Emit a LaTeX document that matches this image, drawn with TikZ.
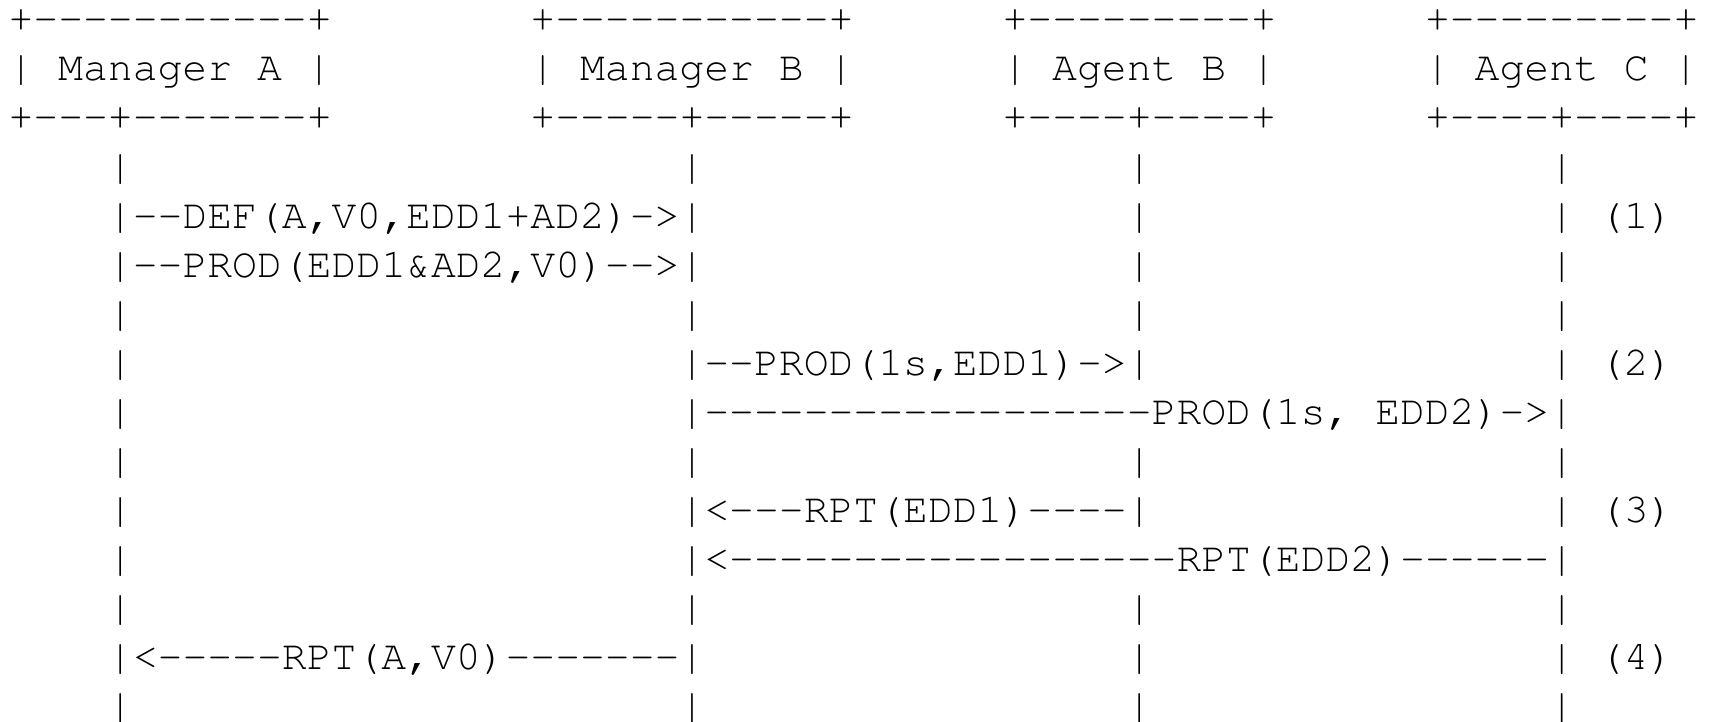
\documentclass[tikz,border=0pt]{standalone}
\usepackage[T1]{fontenc}
\newcommand\mono{\fontencoding{T1}\fontfamily{pcr}\fontseries{m}\fontshape{n}\fontsize{20.708pt}{24.5pt}\selectfont}
\newcommand\dashes[1]{\foreach\i in {1,...,#1}{-}}
\tikzset{asc/.style={anchor=base west, inner sep=0pt, outer sep=0pt, font=\mono, text=black}}
\newcommand\asc[4]{\node[asc] (#1) at ({8.575+24.85*(#2)},{32+49*(#3)}) {#4};}
\begin{document}
\begin{tikzpicture}[x=0.5pt,y=-0.5pt]
\fill[white] (0,0) rectangle (1714,722);
\useasboundingbox (0,0) rectangle (1714,722);
% participant boxes
\asc{mAt}{0}{0}{+\dashes{11}+}
\asc{mBt}{21}{0}{+\dashes{11}+}
\asc{aBt}{40}{0}{+\dashes{9}+}
\asc{aCt}{57}{0}{+\dashes{9}+}
\asc{mA}{0}{1}{| Manager A |}
\asc{mB}{21}{1}{| Manager B |}
\asc{aB}{40}{1}{| Agent B |}
\asc{aC}{57}{1}{| Agent C |}
\asc{mAb}{0}{2}{+\dashes{3}+\dashes{7}+}
\asc{mBb}{21}{2}{+\dashes{5}+\dashes{5}+}
\asc{aBb}{40}{2}{+\dashes{4}+\dashes{4}+}
\asc{aCb}{57}{2}{+\dashes{4}+\dashes{4}+}
% plain lifeline rows
\foreach \r in {3,6,9,12,14}{
  \asc{lA\r}{4}{\r}{|}
  \asc{lB\r}{27}{\r}{|}
  \asc{lC\r}{45}{\r}{|}
  \asc{lD\r}{62}{\r}{|}
}
% (1)
\asc{m1}{4}{4}{|\dashes{2}DEF(A,V0,EDD1+AD2)->|}
\asc{lC4}{45}{4}{|}
\asc{lD4}{62}{4}{|}
\asc{s1}{64}{4}{(1)}
\asc{m2}{4}{5}{|\dashes{2}PROD(EDD1\&AD2,V0)\dashes{2}>|}
\asc{lC5}{45}{5}{|}
\asc{lD5}{62}{5}{|}
% (2)
\asc{lA7}{4}{7}{|}
\asc{m3}{27}{7}{|\dashes{2}PROD(1s,EDD1)->|}
\asc{lD7}{62}{7}{|}
\asc{s2}{64}{7}{(2)}
\asc{lA8}{4}{8}{|}
\asc{m4}{27}{8}{|\dashes{18}PROD(1s, EDD2)->|}
% (3)
\asc{lA10}{4}{10}{|}
\asc{m5}{27}{10}{|<\dashes{3}RPT(EDD1)\dashes{4}|}
\asc{lD10}{62}{10}{|}
\asc{s3}{64}{10}{(3)}
\asc{lA11}{4}{11}{|}
\asc{m6}{27}{11}{|<\dashes{18}RPT(EDD2)\dashes{6}|}
% (4)
\asc{m7}{4}{13}{|<\dashes{5}RPT(A,V0)\dashes{7}|}
\asc{lC13}{45}{13}{|}
\asc{lD13}{62}{13}{|}
\asc{s4}{64}{13}{(4)}
\end{tikzpicture}
\end{document}
